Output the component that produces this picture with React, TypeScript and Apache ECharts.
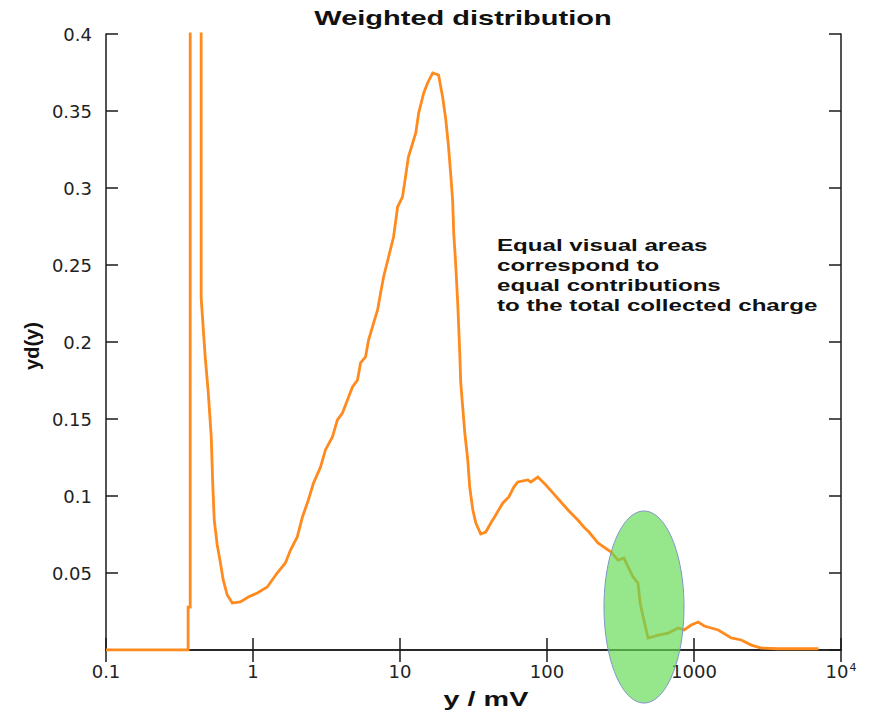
import React, { useEffect, useRef } from "react";
import * as echarts from "echarts";

// Points along the weighted distribution: y in mV and yd(y)
const yMilliVolt = [0.1, 0.362, 0.362, 0.374, 0.374, 0.444, 0.444, 0.473, 0.496, 0.52, 0.532, 0.545, 0.571, 0.599, 0.627, 0.668, 0.723, 0.819, 0.929, 1.07, 1.25, 1.46, 1.66, 1.8, 2.0, 2.17, 2.38, 2.58, 2.88, 3.11, 3.47, 3.75, 4.06, 4.39, 4.75, 5.14, 5.39, 5.83, 6.11, 6.61, 7.04, 7.38, 7.73, 8.36, 9.04, 9.63, 10.4, 10.9, 11.4, 12.2, 12.8, 13.4, 14.5, 15.4, 16.7, 18.3, 19.5, 20.5, 21.4, 22.1, 22.8, 23.2, 23.9, 24.7, 25.5, 25.9, 26.7, 27.6, 28.9, 29.8, 31.3, 32.8, 35.4, 38.3, 41.5, 44.8, 50.1, 55.0, 59.5, 63.3, 74.1, 77.7, 86.7, 98.3, 110, 121, 139, 162, 178, 193, 222, 273, 304, 334, 356, 385, 416, 430, 451, 487, 570, 667, 780, 857, 957, 1068, 1173, 1462, 1793, 2098, 2454, 2871, 3750, 7025];
const weightedValues = [0, 0, 0.0279, 0.0279, 0.9, 0.9, 0.2286, 0.1903, 0.1675, 0.1383, 0.1084, 0.0844, 0.0682, 0.0571, 0.0455, 0.0357, 0.0305, 0.0312, 0.0344, 0.037, 0.0409, 0.05, 0.0565, 0.0649, 0.0734, 0.0864, 0.0974, 0.1084, 0.1188, 0.1299, 0.1383, 0.1494, 0.1539, 0.1623, 0.1708, 0.1753, 0.1864, 0.1903, 0.2013, 0.2123, 0.2208, 0.2318, 0.2422, 0.2552, 0.2682, 0.2877, 0.2942, 0.3071, 0.3201, 0.3292, 0.3357, 0.3487, 0.3617, 0.3682, 0.3747, 0.3734, 0.3591, 0.3442, 0.3266, 0.3097, 0.2922, 0.2708, 0.2513, 0.2253, 0.1929, 0.1734, 0.1578, 0.1409, 0.1234, 0.1058, 0.0909, 0.0825, 0.0753, 0.0766, 0.0825, 0.0877, 0.0955, 0.0994, 0.1058, 0.1091, 0.1104, 0.1091, 0.1123, 0.1071, 0.1019, 0.0974, 0.0909, 0.0844, 0.0799, 0.0766, 0.0695, 0.0636, 0.0584, 0.0597, 0.0539, 0.0474, 0.0435, 0.0305, 0.0214, 0.0078, 0.0097, 0.011, 0.0143, 0.013, 0.0162, 0.0182, 0.0156, 0.013, 0.0078, 0.0065, 0.0032, 0.0013, 0.0008, 0.0008];

const xTickLabels: Record<string, string> = { "0.1": "0.1", "1": "1", "10": "10", "100": "100", "1000": "1000", "10000": "10{sup|4}" };
const yTicks = { min: 0, max: 0.4, interval: 0.05 };

const titleText = "Weighted distribution";
const xName = "y / mV";
const yName = "yd(y)";
const noteLines = ["Equal visual areas", "correspond to", "equal contributions", "to the total collected charge"];

export default function App() {
  const ref = useRef<HTMLDivElement>(null);
  useEffect(() => {
    document.body.style.margin = "0";
    const chart = echarts.init(ref.current!, null, { renderer: "svg" });
    const axisLine = { show: true, lineStyle: { color: "#1a1a1a", width: 1.5 } };
    const tick = { show: true, inside: true, length: 12, lineStyle: { color: "#1a1a1a", width: 1.5 } };
    const labelFont = { fontFamily: "DejaVu Sans", fontSize: 18, color: "#222" };
    chart.setOption({
      animation: false,
      backgroundColor: "#ffffff",
      grid: { left: 106, right: 31, top: 34, bottom: 66, containLabel: false },
      xAxis: [
        {
          type: "log", logBase: 10, min: 0.1, max: 10000, position: "bottom",
          axisLine, axisTick: tick, splitLine: { show: false }, minorTick: { show: false },
          axisLabel: {
            ...labelFont, margin: 12,
            formatter: (v: number) => xTickLabels[String(Number(v.toPrecision(6)))] ?? String(v),
            rich: { sup: { fontFamily: "DejaVu Sans", fontSize: 11, color: "#222", verticalAlign: "top", padding: [0, 0, 8, 1] } },
          },
        },
        {
          type: "log", logBase: 10, min: 0.1, max: 10000, position: "top",
          axisLine, axisTick: tick, splitLine: { show: false }, axisLabel: { show: false },
        },
      ],
      yAxis: [
        {
          type: "value", ...yTicks, position: "left",
          axisLine, axisTick: tick, splitLine: { show: false },
          axisLabel: { ...labelFont, margin: 14, formatter: (v: number) => (v === 0 ? "" : String(Number(v.toFixed(2)))) },
        },
        {
          type: "value", ...yTicks, position: "right",
          axisLine, axisTick: tick, splitLine: { show: false }, axisLabel: { show: false },
        },
      ],
      series: [
        {
          type: "line", xAxisIndex: 0, yAxisIndex: 0, clip: true,
          showSymbol: false, symbol: "none",
          data: yMilliVolt.map((x, i) => [x, weightedValues[i]]),
          lineStyle: { color: "#ff8a1e", width: 2.8, join: "miter" },
          z: 2,
        },
      ],
      graphic: [
        {
          type: "ellipse", z: 100,
          shape: { cx: 644, cy: 607, rx: 40, ry: 96 },
          style: { fill: "rgba(100, 218, 85, 0.68)", stroke: "#7f95c8", lineWidth: 1 },
        },
        {
          type: "text", x: 463, y: 18, scaleX: 1.45, z: 110,
          style: { text: titleText, fontFamily: "Liberation Sans", fontWeight: "bold", fontSize: 20, fill: "#111", textAlign: "center", textVerticalAlign: "middle" },
        },
        {
          type: "text", x: 486, y: 699, scaleX: 1.44, z: 110,
          style: { text: xName, fontFamily: "Liberation Sans", fontWeight: "bold", fontSize: 20, fill: "#111", textAlign: "center", textVerticalAlign: "middle" },
        },
        {
          type: "text", x: 32, y: 346, rotation: Math.PI / 2, z: 110,
          style: { text: yName, fontFamily: "Liberation Sans", fontWeight: "bold", fontSize: 20, fill: "#111", textAlign: "center", textVerticalAlign: "middle" },
        },
        {
          type: "text", x: 497, y: 235, scaleX: 1.42, z: 110,
          style: { text: noteLines.join("\n"), fontFamily: "Liberation Sans", fontWeight: "bold", fontSize: 17, lineHeight: 20, fill: "#111", textAlign: "left", textVerticalAlign: "top" },
        },
      ],
    });
    return () => chart.dispose();
  }, []);
  return <div ref={ref} style={{ width: 872, height: 716 }} />;
}
